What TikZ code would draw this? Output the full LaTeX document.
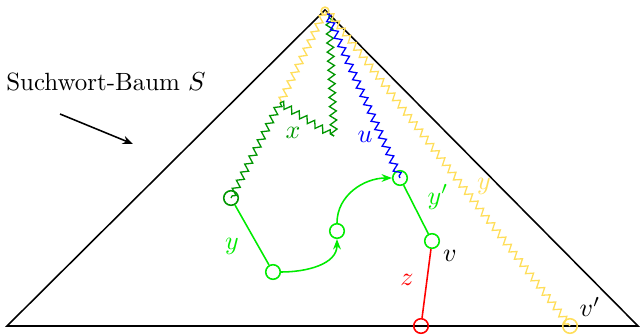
\documentclass[tikz,border=0pt]{standalone}
\usetikzlibrary{decorations.pathmorphing,arrows.meta}
\definecolor{ylw}{RGB}{255,222,90}
\definecolor{dgreen}{RGB}{0,150,0}
\definecolor{bgreen}{RGB}{0,235,0}
\begin{document}
\begin{tikzpicture}[x=0.385pt,y=-0.385pt,
  every node/.style={font=\fontsize{9.6}{11}\selectfont},
  zz/.style={decorate,decoration={zigzag,segment length=3.5pt,amplitude=1.3pt},line width=0.5pt},
  vtx/.style={circle,draw,line width=0.6pt,inner sep=0pt,minimum size=5.6pt},
  edge/.style={line width=0.6pt},
  lbl/.style={inner sep=1pt}]
\useasboundingbox (0,0) rectangle (643,334);
% triangle
\coordinate (apex) at (325,10);
\coordinate (bl) at (7,326);
\coordinate (br) at (638,326);
\draw[line width=0.6pt] (bl) -- (apex) -- (br) -- cycle;
% title and arrow
\node (title) at (106,82) {Suchwort-Baum $S$};
\coordinate (a1) at (60,114);
\coordinate (a2) at (133,144);
\draw[line width=0.6pt,-{Stealth[length=4pt,width=3.2pt]}] (a1) -- (a2);
% vertices
\node[vtx,draw=ylw,minimum size=3pt] (top) at (325,11) {};
\coordinate (P) at (280,103);
\coordinate (Q) at (334,136);
\coordinate (t1) at (329,15);
\coordinate (t2) at (327,14);
\coordinate (t3) at (330,14);
\node[vtx,draw=dgreen] (G1) at (231,198) {};
\node[vtx,draw=bgreen] (G2) at (273,272) {};
\node[vtx,draw=bgreen] (G3) at (337,231) {};
\node[vtx,draw=bgreen] (G4) at (400,178) {};
\node[vtx,draw=bgreen] (G5) at (432,241) {};
\node[vtx,draw=red] (R) at (421,326) {};
\node[vtx,draw=ylw] (Y) at (570,326) {};
% zigzag paths
\draw[zz,ylw] (top.center) -- (P);
\draw[zz,dgreen] (P) -- (G1.center);
\draw[zz,dgreen] (P) -- (Q);
\draw[zz,dgreen] (Q) -- (t1);
\draw[zz,blue] (t2) -- (G4.center);
\draw[zz,ylw] (t3) -- (Y.center);
% green edges
\draw[edge,bgreen] (G1) -- (G2);
\draw[edge,bgreen,-{Stealth[length=4pt,width=3pt]}] (G2.east) to[out=0,in=-90] (G3.south);
\draw[edge,bgreen,-{Stealth[length=4pt,width=3pt]}] (G3.north) to[out=90,in=180] (G4.west);
\draw[edge,bgreen] (G4) -- (G5);
\draw[edge,red] (G5) -- (R);
% labels
\node[lbl,text=dgreen] (lx) at (293,133) {$x$};
\node[lbl,text=blue] (lu) at (365,137) {$u$};
\node[lbl,text=ylw] (ly1) at (484,186) {$y$};
\node[lbl,text=bgreen] (ly2) at (232,246) {$y$};
\node[lbl,text=bgreen] (ly3) at (438,197) {$y'$};
\node[lbl,text=red] (lz) at (407,280) {$z$};
\node[lbl] (lv) at (450,256) {$v$};
\node[lbl] (lv2) at (590,307) {$v'$};
\end{tikzpicture}
\end{document}
